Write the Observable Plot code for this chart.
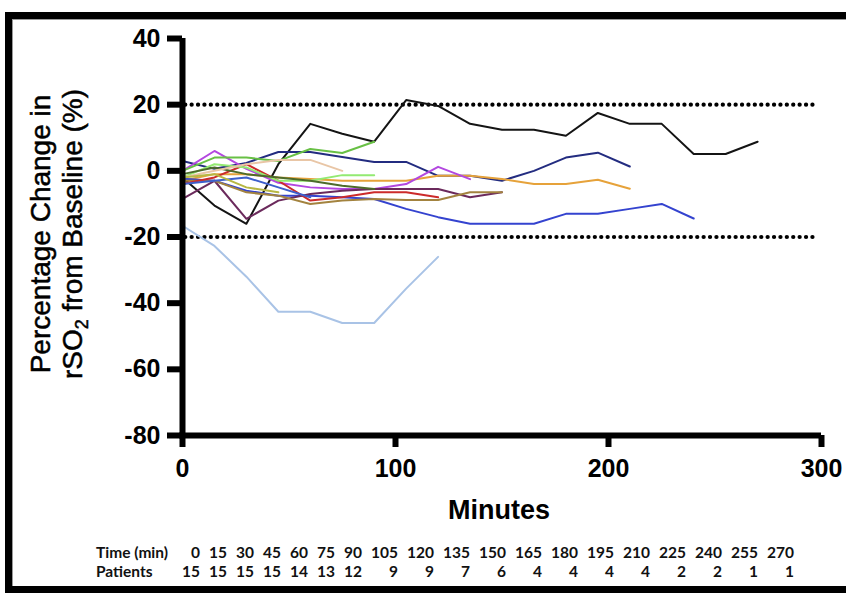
<!DOCTYPE html>
<html>
<head>
<meta charset="utf-8">
<script src="https://cdn.jsdelivr.net/npm/d3@7"></script>
<script src="https://cdn.jsdelivr.net/npm/@observablehq/plot@0.6"></script>
<style>
  html, body { margin: 0; padding: 0; background: #fff; overflow: hidden; }
  #page { position: relative; width: 846px; height: 593px; overflow: hidden; }
  #frame { position: absolute; left: 5px; top: 12px; width: 870px; height: 567px; border: 7px solid #000; box-shadow: inset 1px 1px 0 #999; }
  #chart { position: absolute; left: 0; top: 0; }
  .ytitle { position: absolute; font-family: "Liberation Sans", Arial, sans-serif; font-size: 28px; color: #000; white-space: nowrap; transform: translate(-50%, -50%) rotate(-90deg); line-height: 1; -webkit-text-stroke: 0.5px #000; }
  .ytitle sub { font-size: 18px; vertical-align: -6px; line-height: 0; }
  #xtitle { position: absolute; left: 499px; top: 510px; transform: translate(-50%, -50%); font-family: "Liberation Sans", Arial, sans-serif; font-weight: bold; font-size: 27px; white-space: nowrap; }
  .tbl { position: absolute; font-family: Lato, "Open Sans", sans-serif; font-weight: bold; font-size: 15.5px; color: #111; white-space: nowrap; transform: translateY(-50%); }
  .num { text-align: right; }
</style>
</head>
<body>
<div id="page">
  <div id="frame"></div>
  <div id="chart"></div>
  <div class="ytitle" style="left:41px; top:234px;">Percentage Change in</div>
  <div class="ytitle" style="left:73px; top:234px;">rSO<sub>2</sub> from Baseline (%)</div>
  <div id="xtitle">Minutes</div>
  <div id="table"></div>
</div>
<script>
// ---- data ----
const times = [0, 15, 30, 45, 60, 75, 90, 105, 120, 135, 150, 165, 180, 195, 210, 225, 240, 255, 270];
const patients = [15, 15, 15, 15, 14, 13, 12, 9, 9, 7, 6, 4, 4, 4, 4, 2, 2, 1, 1];
const yTicks = [-80, -60, -40, -20, 0, 20, 40];
const xTicks = [0, 100, 200, 300];
const thresholds = [20, -20];

// each patient: values at times[0..n-1]
const pBlack     = [-2, -10.5, -16, 2, 14.2, 11.2, 8.8, 21.4, 19.6, 14.2, 12.4, 12.4, 10.6, 17.5, 14.2, 14.2, 5.1, 5.1, 8.8];
const pNavy      = [3, 0.6, 2.4, 5.7, 5.7, 4.2, 2.7, 2.7, -1.5, -1.5, -3, 0, 4, 5.5, 1.3];
const pOrange    = [-3, -1, -1, -2, -2.5, -3, -3, -3, -1.5, -1.5, -2.5, -4, -4, -2.7, -5.4];
const pBlue      = [-2.4, -3, -6, -7.5, -7.5, -8, -8.5, -11.5, -14, -16, -16, -16, -13, -13, -11.5, -10, -14.4];
const pLightBlue = [-16.6, -22.7, -32, -42.6, -42.6, -46, -46, -35.6, -26];
const pViolet    = [0, 6, 0.6, -3.6, -5, -5.5, -5.5, -4, 1.2, -2.5];
const pPlum      = [-8.5, -3, -14.5, -9, -7, -6, -5.5, -5.5, -5.5, -8, -6.5];
const pBrown     = [-3, -3, -6.5, -7.5, -10, -9, -8.5, -8.8, -8.8, -6.5, -6.5];
const pRed       = [-4, -2, 2, -3, -9, -8, -6.5, -6.5, -8];
const pGreen     = [0, 4, 4, 3, 6.6, 5.4, 8.8];
const pLightGrn  = [-2, 2, 1, -3, -3, -1.3, -1.3];
const pDarkGrn   = [-1, 1, -1, -2, -3, -4.5, -5.5];
const pTan       = [-2, 0, 2, 3.3, 3.3, 0];
const pMidBlue   = [-4, -3, -2, -5, -8];
const pOlive     = [-2, -1, -5, -6.5];

const seriesList = [
  {id: "black", color: "#141414", values: pBlack},
  {id: "navy", color: "#232c80", values: pNavy},
  {id: "orange", color: "#e6a23a", values: pOrange},
  {id: "blue", color: "#3443cf", values: pBlue},
  {id: "lightblue", color: "#a9c3e6", values: pLightBlue},
  {id: "violet", color: "#b348e0", values: pViolet},
  {id: "plum", color: "#6b2a5c", values: pPlum},
  {id: "brown", color: "#a3833f", values: pBrown},
  {id: "red", color: "#cc2b2b", values: pRed},
  {id: "green", color: "#68c045", values: pGreen},
  {id: "lightgreen", color: "#93ea72", values: pLightGrn},
  {id: "darkgreen", color: "#4d6b2b", values: pDarkGrn},
  {id: "tan", color: "#e9c6a6", values: pTan},
  {id: "midblue", color: "#3d5fcc", values: pMidBlue},
  {id: "olive", color: "#b7b743", values: pOlive}
];

const rows = seriesList.flatMap(s => s.values.map((v, i) => ({id: s.id, color: s.color, t: times[i], v})));

const plot = Plot.plot({
  width: 846,
  height: 530,
  marginLeft: 182,
  marginRight: 25,
  marginTop: 38,
  marginBottom: 95,
  style: {background: "transparent", fontFamily: "'Liberation Sans', Arial, sans-serif", color: "#000"},
  x: {domain: [0, 300]},
  y: {domain: [-80, 40]},
  color: {type: "identity"},
  marks: [
    Plot.ruleY(thresholds, {x1: 1.5, x2: 298.5, stroke: "#000", strokeWidth: 4.2, strokeDasharray: "0.1 6.3", strokeLinecap: "round"}),
    Plot.line(rows, {x: "t", y: "v", z: "id", stroke: "color", strokeWidth: 2}),
    Plot.ruleX([0], {y1: -80, y2: 40, stroke: "#000", strokeWidth: 6}),
    Plot.ruleY([-80], {x1: -1.3, x2: 300, stroke: "#000", strokeWidth: 6}),
    Plot.axisY({ticks: yTicks, tickSize: 15, strokeWidth: 6, tickPadding: 7, fontSize: 25, fontWeight: "bold", tickFormat: d => String(d), label: null}),
    Plot.axisX({ticks: xTicks, tickSize: 12, strokeWidth: 6, tickPadding: 12, fontSize: 25, fontWeight: "bold", tickFormat: d => String(d), label: null})
  ]
});
document.getElementById("chart").appendChild(plot);

// ---- bottom table ----
const table = document.getElementById("table");
function addText(txt, left, top, cls, right) {
  const d = document.createElement("div");
  d.className = cls;
  d.textContent = txt;
  d.style.top = top + "px";
  if (right !== undefined) { d.style.right = (846 - right) + "px"; }
  else d.style.left = left + "px";
  table.appendChild(d);
}
const rowTime = 552, rowPat = 571;
addText("Time (min)", 96, rowTime, "tbl");
addText("Patients", 96, rowPat, "tbl");
let edge = 200;
times.forEach((t, i) => {
  const s = String(t);
  if (i > 0) edge += 9 * s.length + 9;
  addText(s, 0, rowTime, "tbl num", edge);
  addText(String(patients[i]), 0, rowPat, "tbl num", edge);
});
</script>
</body>
</html>
